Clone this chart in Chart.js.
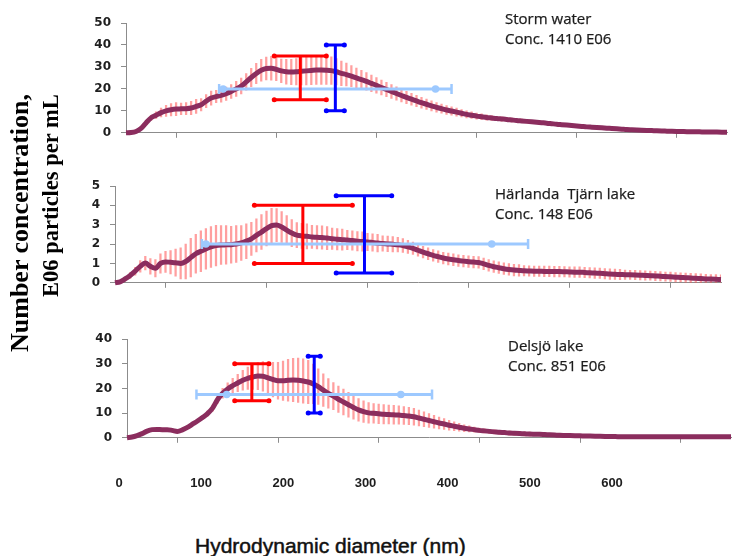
<!DOCTYPE html>
<html><head><meta charset="utf-8">
<script src="https://cdn.jsdelivr.net/npm/chart.js@4.4.1/dist/chart.umd.min.js"></script>
<style>
html,body{margin:0;padding:0;background:#fff;}
#wrap{position:relative;width:741px;height:556px;overflow:hidden;background:#fff;}
canvas{position:absolute;left:0;}
.t{position:absolute;font-family:"Open Sans";font-size:15px;line-height:20px;color:#1c1c1c;white-space:pre;-webkit-text-stroke:0.25px #1c1c1c;}
.yt{position:absolute;font-family:"Liberation Serif";font-weight:bold;color:#000;white-space:pre;transform-origin:0 0;transform:rotate(-90deg);}
.xt{position:absolute;font-family:"Liberation Sans";font-size:21px;line-height:24px;color:#111;white-space:pre;-webkit-text-stroke:0.5px #111;}
</style></head><body>
<div id="wrap">
<canvas id="c1" width="741" height="150" style="top:0px"></canvas>
<canvas id="c2" width="741" height="140" style="top:160px"></canvas>
<canvas id="c3" width="741" height="145" style="top:310px"></canvas>
<canvas id="c4" width="741" height="30" style="top:460px"></canvas>
<div class="t" style="left:505px;top:8px">Storm water
Conc. 1410 E06</div>
<div class="t" style="left:495px;top:183px">Härlanda  Tjärn lake
Conc. 148 E06</div>
<div class="t" style="left:508px;top:335px">Delsjö lake
Conc. 851 E06</div>
<div class="yt" style="left:5px;top:352px;font-size:26px;line-height:30px">Number concentration,</div>
<div class="yt" style="left:38px;top:297px;font-size:22.5px;line-height:26px">E06 particles per mL</div>
<div class="xt" style="left:195px;top:534px">Hydrodynamic diameter (nm)</div>
</div>
<script>
// Hydrodynamic diameter (nm)
const diam = [0,5,10,15,20,25,30,35,40,45,50,55,60,65,70,75,80,85,90,95,100,105,110,115,120,125,130,135,140,145,150,155,160,165,170,175,180,185,190,195,200,205,210,215,220,225,230,235,240,245,250,255,260,265,270,275,280,285,290,295,300,305,310,315,320,325,330,335,340,345,350,355,360,365,370,375,380,385,390,395,400,405,410,415,420,425,430,435,440,445,450,455,460,465,470,475,480,485,490,495,500,505,510,515,520,525,530,535,540,545,550,555,560,565,570,575,580,585,590,595,600];
const xTicks = [0,100,200,300,400,500,600];

// Storm water (E06 particles/mL)
const storm = [0,0.1,0.6,2.0,4.5,6.8,8.0,9.2,10.0,10.5,10.8,10.9,11.0,11.3,12.0,12.8,14.4,15.8,16.5,17.0,17.8,18.8,20.0,21.3,23.2,25.2,27.0,28.5,29.3,29.4,28.9,28.2,27.8,27.7,27.8,28.0,28.2,28.4,28.6,28.6,28.5,28.3,27.8,27.1,26.5,25.8,25.0,24.2,23.4,22.5,21.6,20.6,19.7,18.8,17.9,17.0,16.1,15.3,14.5,13.7,13.0,12.3,11.6,11.0,10.4,9.9,9.4,8.9,8.4,8.0,7.6,7.3,7.0,6.75,6.5,6.3,6.1,5.85,5.6,5.4,5.2,5.0,4.8,4.6,4.4,4.15,3.9,3.7,3.5,3.3,3.1,2.9,2.7,2.55,2.4,2.25,2.1,1.95,1.8,1.65,1.5,1.4,1.3,1.2,1.1,1.0,0.9,0.82,0.75,0.68,0.62,0.57,0.52,0.48,0.45,0.41,0.38,0.35,0.32,0.3,0.28];
const stormErr = [0,0.2,0.3,0.5,0.8,1.2,1.5,2.0,2.5,2.8,3.0,2.6,2.8,3.0,3.2,2.8,3.0,3.2,2.8,3.0,3.0,3.2,3.4,3.6,3.8,4.2,4.6,5.0,5.2,5.4,5.2,5.4,5.6,5.8,6.0,6.2,6.4,6.5,6.6,6.6,6.5,6.3,6.0,5.6,5.2,4.8,4.5,4.2,4.0,3.8,3.6,3.4,3.3,3.2,3.0,2.9,2.8,2.7,2.6,2.5,2.4,2.3,2.2,2.1,2.0,1.9,1.8,1.7,1.6,1.5,1.4,1.3,1.2,1.1,1.0,1.0,0.9,0.9,0.8,0.8,0.7,0.6,0.6,0.6,0.6,0.6,0.6,0.6,0.6,0.6,0.6,0.5,0.5,0.5,0.5,0.5,0.5,0.5,0.5,0.5,0.5,0.4,0.4,0.4,0.4,0.4,0.4,0.4,0.4,0.4,0.4,0.3,0.3,0.3,0.3,0.3,0.3,0.3,0.3,0.3,0.3];

// Härlanda Tjärn lake
const harlanda = [0,0.05,0.2,0.38,0.6,0.85,1.02,0.85,0.75,1.0,1.08,1.06,1.04,1.0,1.1,1.3,1.5,1.63,1.75,1.85,1.92,1.95,1.96,1.97,2.0,2.06,2.15,2.27,2.45,2.62,2.8,2.95,2.98,2.88,2.72,2.57,2.46,2.42,2.4,2.37,2.35,2.34,2.31,2.28,2.25,2.23,2.21,2.18,2.15,2.13,2.11,2.08,2.05,2.03,2.01,1.99,1.97,1.93,1.86,1.78,1.68,1.58,1.5,1.42,1.35,1.28,1.23,1.19,1.15,1.12,1.09,1.07,1.05,0.98,0.9,0.83,0.78,0.73,0.69,0.66,0.64,0.62,0.61,0.6,0.6,0.59,0.59,0.58,0.58,0.57,0.56,0.55,0.55,0.53,0.52,0.5,0.49,0.47,0.45,0.44,0.43,0.42,0.41,0.4,0.39,0.38,0.37,0.35,0.34,0.32,0.31,0.29,0.28,0.26,0.25,0.23,0.22,0.2,0.19,0.18,0.17];
const harlandaErr = [0,0.05,0.1,0.15,0.2,0.3,0.35,0.4,0.45,0.5,0.55,0.6,0.7,0.8,0.9,1.0,1.0,1.05,1.05,1.05,1.05,1.0,1.0,0.95,0.95,0.9,0.9,0.85,0.85,0.9,0.9,0.9,0.85,0.8,0.75,0.7,0.65,0.65,0.65,0.6,0.6,0.6,0.6,0.55,0.55,0.55,0.5,0.5,0.5,0.5,0.45,0.45,0.45,0.4,0.4,0.4,0.38,0.36,0.34,0.32,0.3,0.3,0.3,0.3,0.3,0.3,0.3,0.3,0.3,0.3,0.3,0.3,0.3,0.3,0.3,0.3,0.3,0.3,0.3,0.3,0.3,0.27,0.27,0.27,0.27,0.27,0.27,0.27,0.27,0.27,0.27,0.27,0.27,0.27,0.27,0.27,0.27,0.27,0.27,0.27,0.27,0.24,0.24,0.24,0.24,0.24,0.24,0.24,0.24,0.24,0.24,0.24,0.24,0.24,0.24,0.24,0.24,0.24,0.24,0.24,0.24];

// Delsjö lake
const delsjo = [0,0.3,0.9,1.7,2.7,3.3,3.4,3.3,3.3,3.0,2.6,3.2,4.2,5.5,6.8,8.2,9.8,12.0,15.5,18.0,19.8,21.1,22.2,23.3,24.1,24.6,25.0,24.9,24.3,23.6,23.1,23.1,23.3,23.4,23.3,23.0,22.6,21.8,20.7,19.3,18.0,16.9,15.6,14.5,13.4,12.3,11.3,10.6,10.1,9.9,9.7,9.5,9.4,9.3,9.2,9.0,8.8,8.5,8.0,7.5,7.0,6.5,6.0,5.6,5.1,4.7,4.3,3.9,3.6,3.3,3.0,2.8,2.6,2.4,2.2,2.1,1.9,1.8,1.7,1.6,1.5,1.45,1.4,1.3,1.2,1.1,1.0,0.95,0.9,0.85,0.8,0.75,0.7,0.65,0.6,0.55,0.5,0.48,0.45,0.43,0.42,0.4,0.4,0.4,0.4,0.4,0.4,0.4,0.4,0.4,0.4,0.4,0.4,0.4,0.4,0.4,0.4,0.4,0.4,0.4,0.4];
const delsjoErr = [0,0.2,0.3,0.3,0.3,0.3,0.3,0.3,0.3,0.3,0.4,0.4,0.5,0.6,0.7,0.8,1.0,1.2,1.5,2.0,2.5,3.0,3.5,4.0,4.5,5.0,5.5,6.0,6.5,7.0,7.5,8.0,8.5,8.8,9.0,9.0,8.8,8.0,7.2,6.6,6.0,5.5,5.3,5.2,5.0,4.8,4.6,4.4,4.2,4.0,4.0,3.9,3.8,3.8,3.7,3.6,3.5,3.4,3.2,3.0,2.8,2.6,2.4,2.2,2.0,1.8,1.6,1.4,1.2,1.0,0.9,0.8,0.8,0.8,0.8,0.8,0.8,0.8,0.8,0.8,0.8,0.6,0.6,0.6,0.6,0.6,0.6,0.6,0.6,0.6,0.6,0.5,0.5,0.5,0.5,0.5,0.5,0.5,0.5,0.5,0.5,0.4,0.4,0.4,0.4,0.4,0.4,0.4,0.4,0.4,0.4,0.35,0.35,0.35,0.35,0.35,0.35,0.35,0.35,0.35,0.35];

// Summary markers per panel [storm, harlanda, delsjo]
const redMean = [174, 186, 124];
const redLow = [15, 1, 15];
const redHigh = [35, 4, 30];
const redCapFrom = [148, 138, 107];
const redCapTo = [200, 235, 141];
const blueMean = [209, 247, 186];
const blueLow = [10, 0.5, 10];
const blueHigh = [40, 4.5, 33];
const blueCapFrom = [200, 219, 180];
const blueCapTo = [218, 274, 192];
const lightY = [20, 2, 17.5];
const lightFrom = [93, 86, 69];
const lightTo = [325, 409, 303];
const lightMarkA = [97, 90, 99];
const lightMarkB = [309, 373, 272];
const yMaxes = [50, 5, 40];
const ySteps = [10, 1, 10];

const AX = '#8c8c8c';
function whisker(mean, lo, hi, cf, ct) {
  return [{x:cf,y:hi},{x:ct,y:hi},{x:mean,y:null},{x:mean,y:hi},{x:mean,y:lo},{x:mean,y:null},{x:cf,y:lo},{x:ct,y:lo}];
}
function panel(id, k, vals, errs, layout) {
  const main = diam.map((d,i)=>({x:d,y:vals[i]}));
  const bars = diam.map((d,i)=>({x:d,y:[vals[i]-errs[i], vals[i]+errs[i]]}));
  const capR = ctx => [0,1,6,7].includes(ctx.dataIndex) ? 2.5 : 0;
  new Chart(document.getElementById(id), {
    type: 'line',
    data: { datasets: [
      { type:'bar', data: bars, backgroundColor:'rgba(255,80,80,0.55)', borderWidth:0, barThickness:1.6, grouped:false, order:4 },
      { type:'line', data: main, borderColor:'#8B2D5E', borderWidth:5, pointRadius:0, cubicInterpolationMode:'monotone', order:3, clip:12 },
      { type:'line', data: [{x:lightFrom[k],y:lightY[k]},{x:lightMarkA[k],y:lightY[k]},{x:lightMarkB[k],y:lightY[k]},{x:lightTo[k],y:lightY[k]}],
        borderColor:'#9DC9FF', backgroundColor:'#9DC9FF', borderWidth:3,
        pointStyle: ctx => (ctx.dataIndex===0||ctx.dataIndex===3)?'line':'circle',
        rotation: ctx => (ctx.dataIndex===0||ctx.dataIndex===3)?90:0,
        pointRadius: ctx => (ctx.dataIndex===0||ctx.dataIndex===3)?5:2.5,
        pointBorderWidth: 2.5, pointBorderColor:'#9DC9FF', pointBackgroundColor:'#9DC9FF', order:2, clip:12 },
      { type:'line', data: whisker(redMean[k],redLow[k],redHigh[k],redCapFrom[k],redCapTo[k]), borderColor:'#FF0000', backgroundColor:'#FF0000', borderWidth:3, spanGaps:false, pointRadius:capR, pointBorderWidth:0, pointBackgroundColor:'#FF0000', order:1, clip:12 },
      { type:'line', data: whisker(blueMean[k],blueLow[k],blueHigh[k],blueCapFrom[k],blueCapTo[k]), borderColor:'#0000FF', backgroundColor:'#0000FF', borderWidth:3, spanGaps:false, pointRadius:capR, pointBorderWidth:0, pointBackgroundColor:'#0000FF', order:0, clip:12 }
    ]},
    options: {
      responsive:false, animation:false, devicePixelRatio:1,
      plugins:{ legend:{display:false}, tooltip:{enabled:false} },
      layout:{ padding:{ left:0, right:layout.pr, top:layout.pt, bottom:layout.pb } },
      scales:{
        x:{ type:'linear', min:0, max:600, offset:false,
            afterBuildTicks: s => { s.ticks = xTicks.map(v=>({value:v})); },
            ticks:{ display:false },
            grid:{ drawOnChartArea:false, drawTicks:true, tickLength:5, color:AX },
            border:{ display:true, color:AX, width:1 },
            afterFit: s => { s.height = 10; } },
        y:{ type:'linear', min:0, max:yMaxes[k],
            ticks:{ stepSize:ySteps[k], padding:10, color:'#1e1e1e', font:{ family:'DejaVu Sans', weight:'bold', size:12 } },
            grid:{ drawOnChartArea:false, drawTicks:true, tickLength:5, color:AX },
            border:{ display:true, color:AX, width:1 },
            afterFit: s => { s.width = layout.yw; } }
      }
    }
  });
}
panel('c1', 0, storm, stormErr, {yw:126, pr:14, pt:23, pb:7});
panel('c2', 1, harlanda, harlandaErr, {yw:115, pr:20, pt:26, pb:4});
panel('c3', 2, delsjo, delsjoErr, {yw:127, pr:10, pt:29, pb:5});

// bottom diameter labels row
new Chart(document.getElementById('c4'), {
  type:'line',
  data:{ datasets:[{ data:[] }] },
  options:{
    responsive:false, animation:false, devicePixelRatio:1,
    plugins:{ legend:{display:false}, tooltip:{enabled:false} },
    layout:{ padding:{ left:119, right:129, top:0, bottom:0 } },
    scales:{
      x:{ type:'linear', min:0, max:600, position:'bottom',
          afterBuildTicks: s => { s.ticks = xTicks.map(v=>({value:v})); },
          ticks:{ padding:3, maxRotation:0, autoSkip:false, color:'#1e1e1e', font:{ family:'Liberation Sans', weight:'bold', size:13 } },
          grid:{ display:false, drawTicks:false },
          border:{ display:false },
          afterFit: s => { s.height = 17; } },
      y:{ display:false, min:0, max:1 }
    }
  }
});
</script>
</body></html>
